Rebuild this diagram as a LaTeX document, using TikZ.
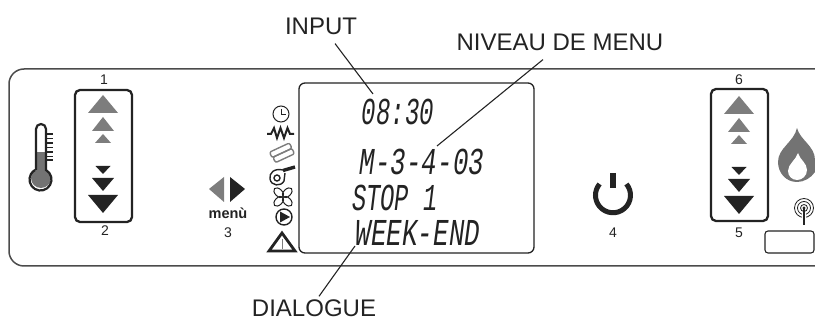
\documentclass[tikz,border=0pt]{standalone}
\usepackage{fontspec}
\setmainfont{Liberation Sans}
\newfontfamily\lcdfont{Liberation Mono}
\usepackage{xcolor}
\usepackage{tikz}
\definecolor{ink}{RGB}{35,35,35}
\definecolor{rulegrey}{RGB}{75,75,75}
\definecolor{upgrey}{RGB}{125,125,125}
\definecolor{flamegrey}{RGB}{115,115,115}
\tikzset{
  callout/.style={font=\fontsize{24}{26}\selectfont,text=ink,inner sep=0pt},
  keynum/.style={font=\fontsize{14}{15}\selectfont,text=ink,inner sep=0pt},
  lcdtxt/.style={font=\lcdfont\itshape\fontsize{38}{39}\selectfont,text=ink,inner sep=0pt,
                 xscale=.68,transform shape},
  leader/.style={draw=ink,line width=1.1pt},
  keybox/.style={draw=ink,line width=2.3pt,rounded corners=5pt},
  lcdbox/.style={draw=ink,line width=1.3pt,rounded corners=6pt},
  icon/.style={draw=ink,line width=1.4pt},
}
\begin{document}
\begin{tikzpicture}[x=1pt,y=-1pt]
  \useasboundingbox (0,0) rectangle (815,320);
  % panel has no right edge, it runs off the page
  \draw[draw=rulegrey,line width=1.5pt,rounded corners=15pt] (815,69) -- (9,69) -- (9,266) -- (815,266);

  \draw[keybox] (75,90) rectangle (132,222);
  \draw[keybox] (711,89) rectangle (768,221);
  \draw[lcdbox] (299,83) rectangle (534,253);
  \draw[draw=ink,line width=1.1pt,rounded corners=3pt] (765,231) rectangle (814,253);

  % up and down keys
  \foreach \c/\d in {103/0,739/1}{
    \fill[upgrey] (\c,95+\d) -- (\c+15,113+\d) -- (\c-15,113+\d) -- cycle;
    \fill[upgrey] (\c,117+\d) -- (\c+11,131+\d) -- (\c-11,131+\d) -- cycle;
    \fill[upgrey] (\c,134+\d) -- (\c+8,143+\d) -- (\c-8,143+\d) -- cycle;
    \fill[ink] (\c,174+\d) -- (\c+7.5,166+\d) -- (\c-7.5,166+\d) -- cycle;
    \fill[ink] (\c,191+\d) -- (\c+11,178+\d) -- (\c-11,178+\d) -- cycle;
    \fill[ink] (\c,213+\d) -- (\c+15,195+\d) -- (\c-15,195+\d) -- cycle;
  }

  \node[keynum] (num1) at (104,80)  {1};
  \node[keynum] (num2) at (105,231) {2};
  \node[keynum] (num3) at (228,233) {3};
  \node[keynum] (num4) at (613,233) {4};
  \node[keynum] (num5) at (739,233) {5};
  \node[keynum] (num6) at (739,80)  {6};
  \node[font=\bfseries\fontsize{14.5}{15}\selectfont,text=ink,inner sep=0pt] (menu) at (228,213) {menù};

  % menu arrows
  \fill[upgrey] (209,189) -- (224,177) -- (224,202) -- cycle;
  \fill[ink] (245,189) -- (230,177) -- (230,202) -- cycle;

  % thermometer
  \fill[flamegrey] (36,152) rectangle (45,172);
  \fill[flamegrey] (41,178) circle[radius=10pt];
  \draw[draw=ink,line width=2.2pt] (36,170) -- (36,129) arc[start angle=180,end angle=0,radius=5pt] -- (46,170)
    arc[start angle=60,end angle=-240,radius=11pt];
  \foreach \t in {134,138.5,143,147.5,152,156.5,160}
    \draw[draw=ink,line width=1.2pt] (46,\t) -- (53,\t);

  % icon column
  \draw[icon,line width=1pt] (281,114) circle[radius=8pt];
  \draw[icon,line width=.8pt] (281,109) -- (281,114) -- (286,114);
  \draw[icon,line width=2pt] (267,134) -- (271,134) -- (274,128) -- (277,138) -- (280.5,128) -- (284,138) -- (287.5,128) -- (290,134) -- (294,134);
  \begin{scope}[rotate around={25:(282,153)}]
    \draw[draw=upgrey,line width=1.4pt,rounded corners=2pt] (271,147) rectangle (293,153);
    \draw[draw=upgrey,line width=1.4pt,rounded corners=2pt] (272,153) rectangle (293,159);
  \end{scope}
  \draw[icon] (277,178) circle[radius=3pt];
  \draw[icon] (283,170) .. controls (274,168) and (269,173) .. (270,179) .. controls (271,186) and (281,187) .. (284,181) -- (285,173);
  \draw[draw=ink,line width=3.4pt] (283,170.5) -- (295,167);
  \foreach \a in {45,135,225,315}
    \draw[draw=ink,line width=1pt,rotate around={\a:(283,197)}] (289,197) ellipse (6pt and 3.6pt);
  \draw[icon] (284,217) circle[radius=8pt];
  \fill[ink] (280,211.5) -- (290,217) -- (280,222.5) -- cycle;
  \draw[draw=ink,line width=2.8pt,line join=miter] (282,233) -- (295,251) -- (269,251) -- cycle;
  \draw[draw=upgrey,line width=.8pt] (282,239) -- (282,249);

  % power key
  \draw[draw=ink,line width=5pt] (626.4,184) arc[start angle=40,end angle=-220,radius=17.5pt];
  \draw[draw=ink,line width=6pt] (613,173) -- (613,188);

  % flame, clipped by the page
  \fill[flamegrey] (797,128) .. controls (800,140) and (815,146) .. (815,160) -- (815,172)
    .. controls (811,178) and (804,182) .. (797,182)
    .. controls (786,182) and (778,173) .. (778,162)
    .. controls (778,148) and (794,142) .. (797,128) -- cycle;
  \fill[white] (798,153) .. controls (800,160) and (807,163) .. (807,170)
    .. controls (807,176) and (802,180) .. (797,180)
    .. controls (792,180) and (788,176) .. (788,171)
    .. controls (788,164) and (796,160) .. (798,153) -- cycle;

  % antenna
  \foreach \r in {3.5,6.5,9.5}
    \draw[draw=ink,line width=.8pt] (804,208) circle[radius=\r pt];
  \fill[ink] (804,208) circle[radius=1.6pt];
  \draw[draw=white,line width=3.4pt] (804,213) -- (804,221);
  \draw[draw=ink,line width=1.6pt] (804,208) -- (804,225);

  % display
  \node[lcdtxt,xscale=.93] (lcdtime) at (398,112)  {08:30};
  \node[lcdtxt] (lcdmenu) at (422,162)  {M-3-4-03};
  \node[lcdtxt,xscale=.92,anchor=west] (lcdstop) at (352,197.5) {STOP 1};
  \node[lcdtxt] (lcdweek) at (418,232.5)  {WEEK-END};

  \node[callout] (lblinput) at (321,26)  {INPUT};
  \node[callout] (lblniveau) at (560,42) {NIVEAU DE MENU};
  \node[callout] (lbldialog) at (314,308) {DIALOGUE};

  \coordinate (tipinput) at (373,94);
  \coordinate (tipniveau) at (437,146);
  \coordinate (tipdialog) at (355,246);
  \draw[leader] ([shift={(14,9)}]lblinput.south) -- (tipinput);
  \draw[leader] ([shift={(-17,9)}]lblniveau.south) -- (tipniveau);
  \draw[leader] ([shift={(5,-3)}]lbldialog.north) -- (tipdialog);
\end{tikzpicture}
\end{document}
